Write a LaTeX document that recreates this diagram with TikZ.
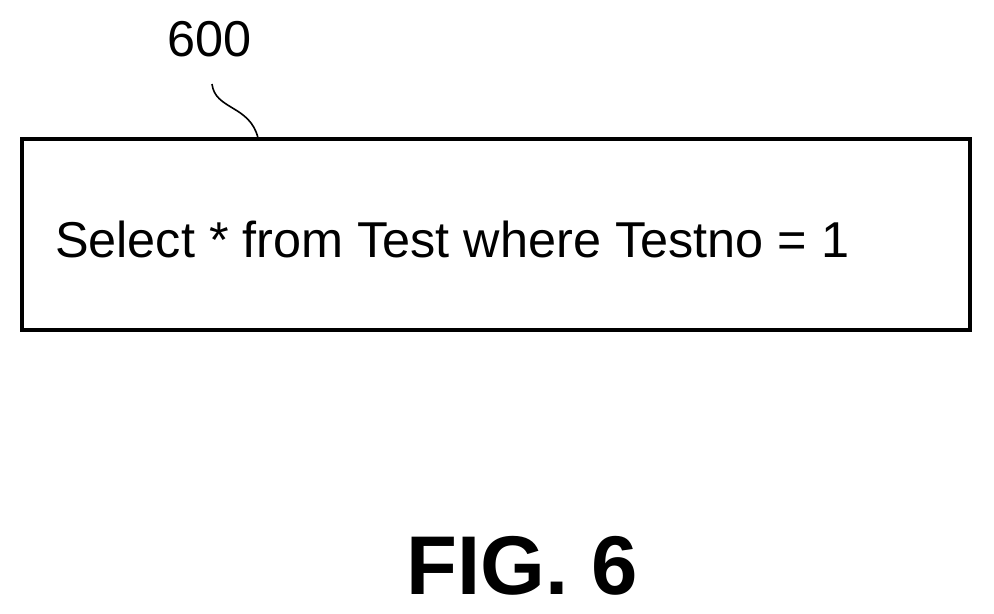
\documentclass[tikz,border=0pt]{standalone}
\usepackage{fontspec}
\setmainfont{Liberation Sans}
\def \globalscale {0.750000}
\begin{document}
\begin{tikzpicture}[y=1pt, x=1pt, yscale=-\globalscale, xscale=\globalscale, inner sep=0pt, outer sep=0pt]
\useasboundingbox (0,0) rectangle (994,613);
\tikzset{reflabel/.style={font=\fontsize{37.8}{42}\selectfont}}
\node[draw=black,line width=2.8pt,minimum width=948pt*\globalscale,minimum height=191pt*\globalscale,anchor=north west] (querybox) at (22,139) {};
\node[reflabel,anchor=base west] (querytext) at (55,257) {Select * from Test where Testno = 1};
\node[reflabel,anchor=base west] (boxnum) at (167,57) {600};
\coordinate (hookstart) at (212,84);
\path[draw=black,line width=1.2pt] (hookstart) .. controls (215,110) and (250,105) .. (258,138);
\node[font=\bfseries\fontsize{62.5}{66}\selectfont,anchor=base] (figlabel) at (522,594) {FIG. 6};
\end{tikzpicture}
\end{document}
